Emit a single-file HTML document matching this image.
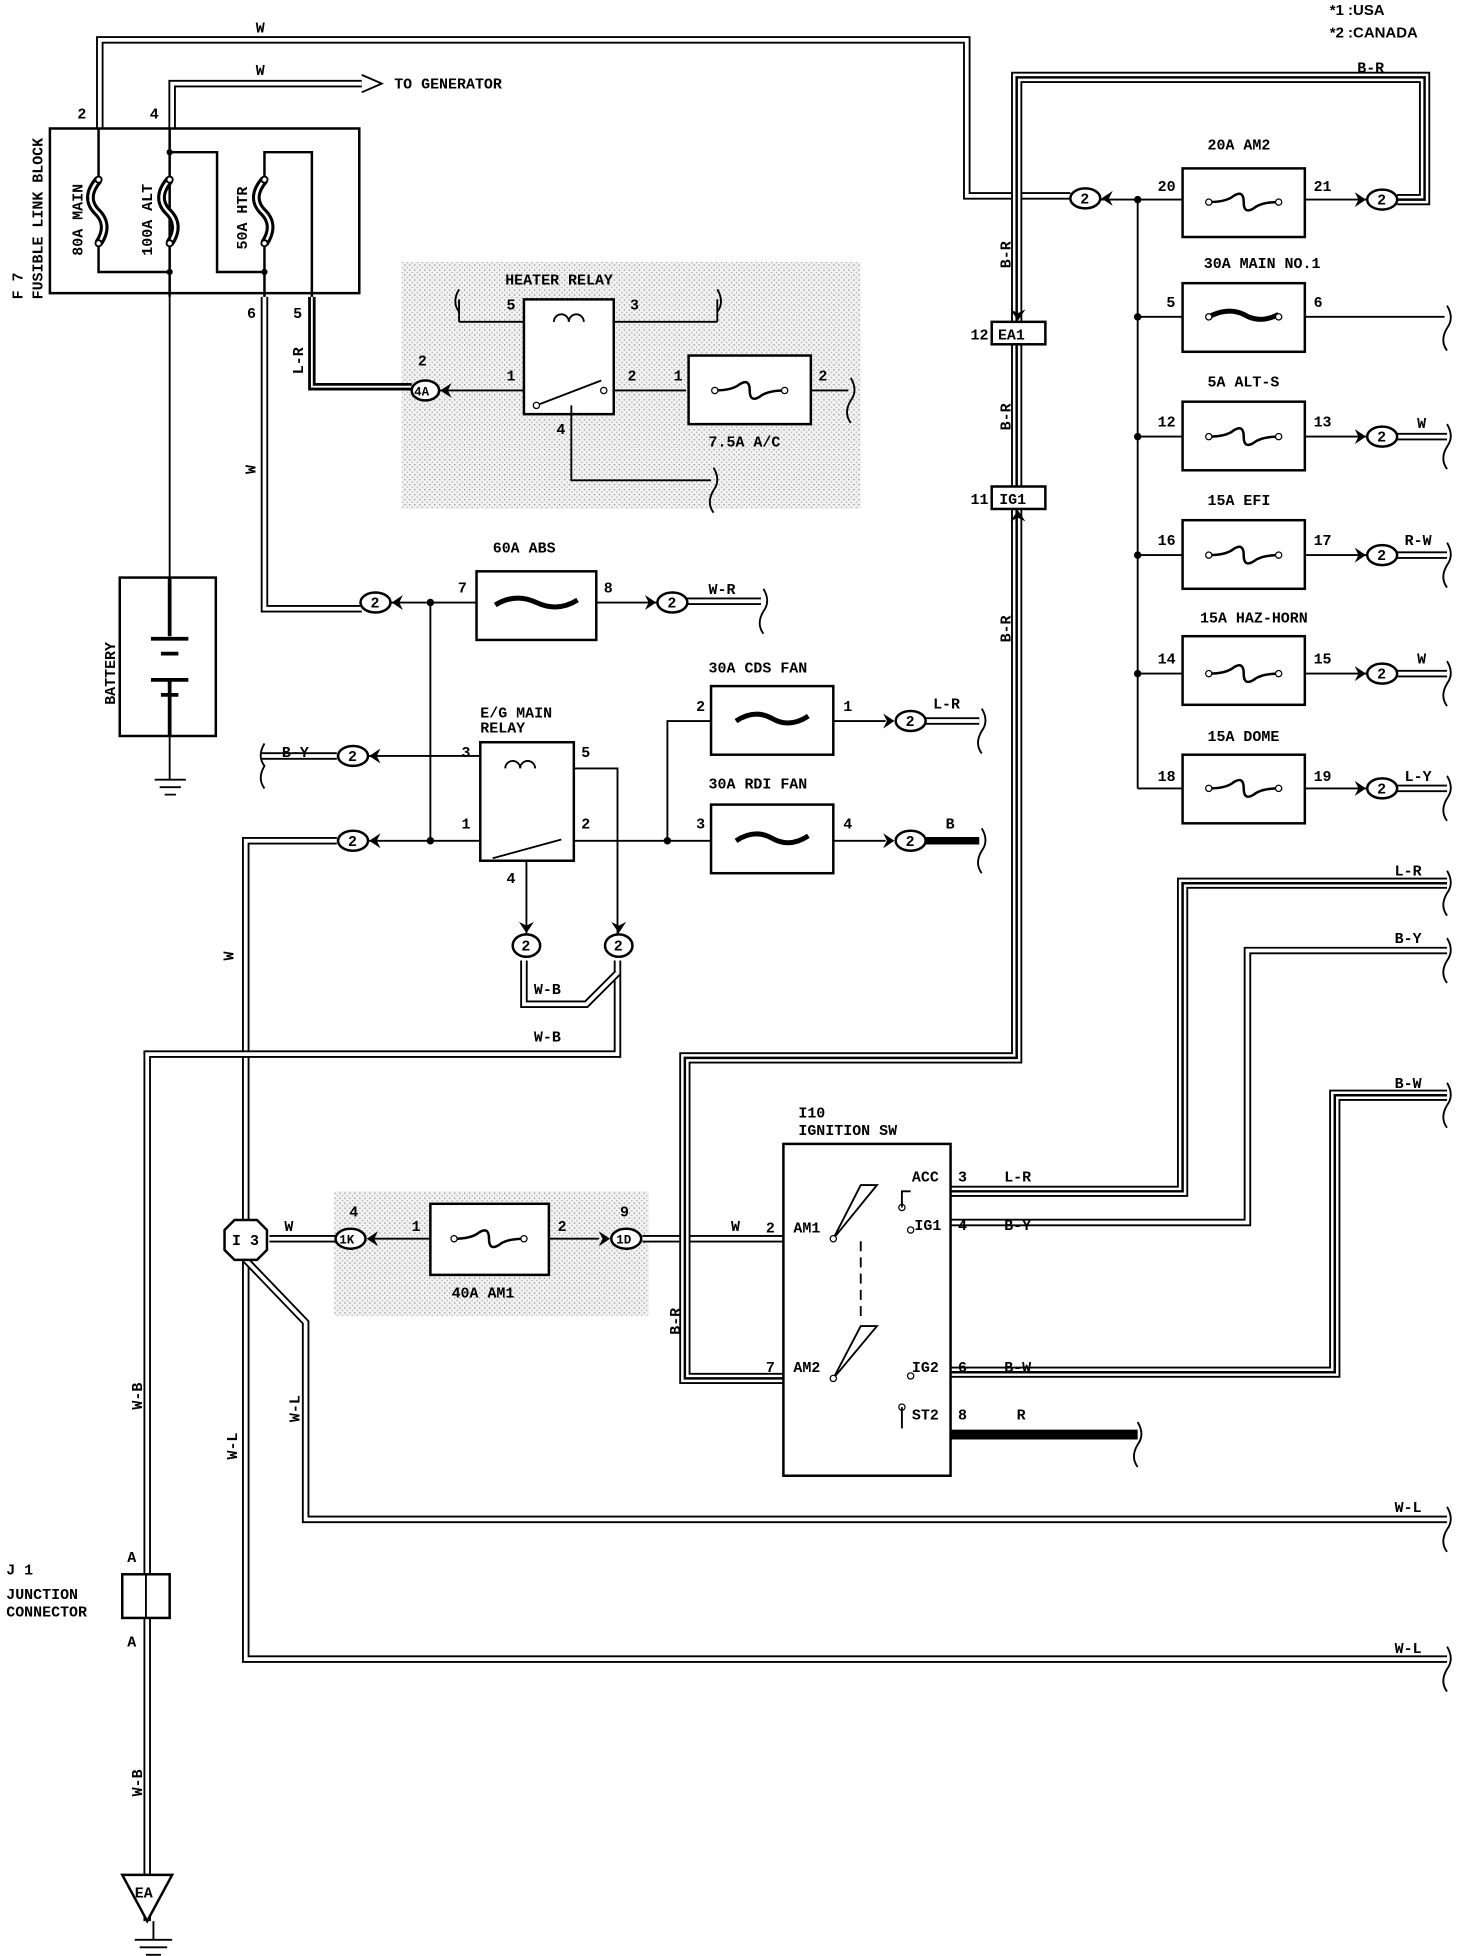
<!DOCTYPE html>
<html><head><meta charset="utf-8"><style>
html,body{margin:0;padding:0;background:#fff}
svg{display:block}
text{font-family:"Liberation Mono",monospace;font-size:12px;font-weight:bold;fill:#000}
</style></head><body>
<svg width="1472" height="1956" viewBox="0 0 1180 1568" xmlns="http://www.w3.org/2000/svg">
<defs>
<pattern id="dots" width="4" height="4" patternUnits="userSpaceOnUse"><rect width="4" height="4" fill="#f2f2f2"/><rect width="1" height="1" fill="#888"/><rect x="2" y="2" width="1" height="1" fill="#aaa"/></pattern>
<g id="fuse"><path d="M-28 0 Q-14 0 -8 -5 Q0 -10 0 0 Q0 10 8 5 Q14 0 28 0" fill="none" stroke="#000" stroke-width="2"/><circle cx="-28" cy="0" r="2.5" fill="#fff" stroke="#000"/><circle cx="28" cy="0" r="2.5" fill="#fff" stroke="#000"/></g>
<g id="vf"><path d="M0 0Q-12 14 -2 25Q10 36 0 51" fill="none" stroke="#000" stroke-width="7"/><path d="M0 0Q-12 14 -2 25Q10 36 0 51" fill="none" stroke="#fff" stroke-width="2"/><circle cx="0" cy="0" r="2.5" fill="#fff" stroke="#000" stroke-width="1.5"/><circle cx="0" cy="51" r="2.5" fill="#fff" stroke="#000" stroke-width="1.5"/></g>
<polygon id="ar" points="0,0 9,-6 6,0 9,6" fill="#000"/>
</defs>
<style>
.w{fill:none;stroke:#000;stroke-width:1.5}
.dA{fill:none;stroke:#000;stroke-width:6}
.dB{fill:none;stroke:#fff;stroke-width:3}
.tA{fill:none;stroke:#000;stroke-width:9}
.tB{fill:none;stroke:#fff;stroke-width:6}
.tC{fill:none;stroke:#000;stroke-width:2}
.bx{fill:#fff;stroke:#000;stroke-width:2}
</style>
<text x="1066" y="12" style="font-family:'Liberation Sans',sans-serif;font-size:12px">*1 :USA</text>
<text x="1066" y="30" style="font-family:'Liberation Sans',sans-serif;font-size:12px">*2 :CANADA</text>

<rect x="322" y="210" width="368" height="198" fill="url(#dots)"/>
<rect x="268" y="955" width="252" height="100" fill="url(#dots)"/>

<g>
<path class="dA" d="M80 103V32H775V157H858"/><path class="dB" d="M80 103V32H775V157H858"/>
<path class="dA" d="M138 103V67H290"/><path class="dB" d="M138 103V67H290"/>
<path class="dA" d="M212 238V488H290"/><path class="dB" d="M212 238V488H290"/>
<path class="dA" d="M270 674H197V1330H1160"/><path class="dB" d="M270 674H197V1330H1160"/>
<path class="dA" d="M197 1010L245 1060V1218H1160"/><path class="dB" d="M197 1010L245 1060V1218H1160"/>
<path class="dA" d="M495 770V845H118V1540"/><path class="dB" d="M495 770V845H118V1540"/>
<path class="dA" d="M420 770V805H470L495 780"/><path class="dB" d="M420 770V805H470L495 780"/>
<path class="dA" d="M216 993H270M515 993H628"/><path class="dB" d="M216 993H270M515 993H628"/>
<path class="dA" d="M545 482H610M740 578H785M1120 350H1160M1120 445H1160M1120 540H1160M1120 632H1160"/><path class="dB" d="M545 482H610M740 578H785M1120 350H1160M1120 445H1160M1120 540H1160M1120 632H1160"/>
<path class="dA" d="M210 606H270"/><path class="dB" d="M210 606H270"/>
<path class="dA" d="M762 980H1000V762H1160"/><path class="dB" d="M762 980H1000V762H1160"/>
</g>
<g>
<path class="tA" d="M1120 160H1142V62H815V848H549V1105H628"/><path class="tB" d="M1120 160H1142V62H815V848H549V1105H628"/><path class="tC" d="M1120 160H1142V62H815V848H549V1105H628"/>
<path class="tA" d="M762 955H948V708H1160"/><path class="tB" d="M762 955H948V708H1160"/><path class="tC" d="M762 955H948V708H1160"/>
<path class="tA" d="M762 1100H1070V878H1160"/><path class="tB" d="M762 1100H1070V878H1160"/><path class="tC" d="M762 1100H1070V878H1160"/>
<path d="M250 238V310H330" fill="none" stroke="#000" stroke-width="6"/><path d="M250 238V310H330" fill="none" stroke="#fff" stroke-width="1.5"/>
<path d="M740 674H785" stroke="#000" stroke-width="6"/>
<path d="M762 1150H912" stroke="#000" stroke-width="8"/>
</g>
<g class="w">
<path d="M136 238V463M136 590V625"/><path d="M124 625H149M128 631H145M132 637H141"/>
<path d="M300 483H382M478 483H540"/>
<path d="M345 483V674"/>
<path d="M290 674H385M290 606H385"/>
<path d="M460 674H570M535 674V578H570M668 578H710M668 674H710"/>
<path d="M460 616H495V750M422 686V750"/>
<path d="M368 258H575M368 258V240M575 258V240M352 313H420M490 313H550M650 313H680M458 340V385H570"/>
<path d="M912 160V632"/>
<path d="M880 160H948M1046 160H1098"/>
<path d="M912 254H948M1046 254H1158M912 350H948M1046 350H1098M912 445H948M1046 445H1098M912 540H948M1046 540H1098M912 632H948M1046 632H1098"/>
<path d="M300 993H345M440 993H480"/>
<path d="M123 1540V1555M108 1555H138M112 1561H134M117 1567H129"/>
</g>

<!-- Fusible link block -->
<rect class="bx" x="40" y="103" width="248" height="132"/>
<g class="w" style="stroke-width:2">
<path d="M79 103V144M79 195V218H136"/>
<path d="M136 103V238"/>
<path d="M136 122H174V218H212M212 195V238"/>
<path d="M212 144V122H250V238"/>
</g>
<circle cx="136" cy="122" r="2.5"/><circle cx="136" cy="218" r="2.5"/><circle cx="212" cy="218" r="2.5"/>
<use href="#vf" x="79" y="144"/><use href="#vf" x="136" y="144"/><use href="#vf" x="212" y="144"/>
<text transform="translate(66 205) rotate(-90)">80A MAIN</text>
<text transform="translate(122 205) rotate(-90)">100A ALT</text>
<text transform="translate(198 200) rotate(-90)">50A HTR</text>
<text transform="translate(18 240) rotate(-90)">F 7</text>
<text transform="translate(34 240) rotate(-90)">FUSIBLE LINK BLOCK</text>
<text x="62" y="95">2</text><text x="120" y="95">4</text><text x="198" y="255">6</text><text x="235" y="255">5</text>
<text x="205" y="26">W</text><text x="205" y="60">W</text>
<path d="M290 60L306 67L290 74" fill="none" stroke="#000" stroke-width="1.5"/>
<text x="316" y="71">TO GENERATOR</text>
<text transform="translate(243 300) rotate(-90)">L-R</text>
<text transform="translate(205 380) rotate(-90)">W</text>

<rect class="bx" x="96" y="463" width="77" height="127"/>
<path d="M136 463V510M136 545V590M121 512H151M129 524H143M121 545H151M129 557H143" stroke="#000" stroke-width="3"/>
<text transform="translate(92 565) rotate(-90)">BATTERY</text>

<text x="405" y="228">HEATER RELAY</text>
<rect class="bx" x="420" y="240" width="72" height="92"/>
<path d="M444 258a6 6 0 0 1 12 0a6 6 0 0 1 12 0" fill="none" stroke="#000" stroke-width="1.5"/>
<path class="w" d="M430 325L482 305M458 325V340"/><circle cx="430" cy="325" r="2.5" fill="#fff" stroke="#000"/><circle cx="484" cy="313" r="2.5" fill="#fff" stroke="#000"/>
<text x="406" y="248">5</text><text x="505" y="248">3</text><text x="406" y="305">1</text><text x="503" y="305">2</text><text x="446" y="348">4</text>
<rect class="bx" x="552" y="285" width="98" height="55"/><use href="#fuse" x="601" y="313"/>
<text x="540" y="305">1</text><text x="656" y="305">2</text><text x="568" y="358">7.5A A/C</text>
<text x="335" y="293">2</text>
<ellipse cx="341" cy="313" rx="11" ry="8" fill="#fff" stroke="#000" stroke-width="2"/><text x="332" y="317" style="font-size:10px">4A</text>

<text x="395" y="443">60A ABS</text>
<rect class="bx" x="382" y="458" width="96" height="55"/>
<path d="M397 485Q413 475 430 483Q447 491 463 481" fill="none" stroke="#000" stroke-width="4"/>
<text x="367" y="475">7</text><text x="484" y="475">8</text>
<text x="568" y="476">W-R</text>
<circle cx="345" cy="483" r="3"/><circle cx="345" cy="674" r="3"/><circle cx="535" cy="674" r="3"/>

<text x="385" y="575">E/G MAIN</text><text x="385" y="587">RELAY</text>
<rect class="bx" x="385" y="595" width="75" height="95"/>
<path d="M405 616a6 6 0 0 1 12 0a6 6 0 0 1 12 0" fill="none" stroke="#000" stroke-width="1.5"/>
<path class="w" d="M395 688L450 673"/>
<text x="370" y="607">3</text><text x="466" y="607">5</text><text x="370" y="664">1</text><text x="466" y="664">2</text><text x="406" y="708">4</text>

<text x="568" y="539">30A CDS FAN</text>
<rect class="bx" x="570" y="550" width="98" height="55"/>
<path d="M590 578Q605 568 619 576Q633 584 648 574" fill="none" stroke="#000" stroke-width="4"/>
<text x="558" y="570">2</text><text x="676" y="570">1</text><text x="748" y="568">L-R</text>
<text x="568" y="632">30A RDI FAN</text>
<rect class="bx" x="570" y="645" width="98" height="55"/>
<path d="M590 674Q605 664 619 672Q633 680 648 670" fill="none" stroke="#000" stroke-width="4"/>
<text x="558" y="664">3</text><text x="676" y="664">4</text><text x="758" y="664">B</text>
<text x="226" y="607">B-Y</text>

<text x="428" y="797">W-B</text><text x="428" y="835">W-B</text>
<text transform="translate(187 770) rotate(-90)">W</text>

<g>
<text x="968" y="120">20A AM2</text><rect class="bx" x="948" y="135" width="98" height="55"/><use href="#fuse" x="997" y="162"/>
<text x="928" y="153">20</text><text x="1053" y="153">21</text>
<text x="965" y="215">30A MAIN NO.1</text><rect class="bx" x="948" y="227" width="98" height="55"/>
<path d="M969 254Q984 246 997 252Q1010 260 1025 252" fill="none" stroke="#000" stroke-width="4"/><circle cx="969" cy="254" r="2.5" fill="#fff" stroke="#000"/><circle cx="1025" cy="254" r="2.5" fill="#fff" stroke="#000"/>
<text x="935" y="246">5</text><text x="1053" y="246">6</text>
<text x="968" y="310">5A ALT-S</text><rect class="bx" x="948" y="322" width="98" height="55"/><use href="#fuse" x="997" y="350"/>
<text x="928" y="342">12</text><text x="1053" y="342">13</text><text x="1136" y="343">W</text>
<text x="968" y="405">15A EFI</text><rect class="bx" x="948" y="417" width="98" height="55"/><use href="#fuse" x="997" y="445"/>
<text x="928" y="437">16</text><text x="1053" y="437">17</text><text x="1126" y="437">R-W</text>
<text x="962" y="499">15A HAZ-HORN</text><rect class="bx" x="948" y="510" width="98" height="55"/><use href="#fuse" x="997" y="540"/>
<text x="928" y="532">14</text><text x="1053" y="532">15</text><text x="1136" y="532">W</text>
<text x="968" y="594">15A DOME</text><rect class="bx" x="948" y="605" width="98" height="55"/><use href="#fuse" x="997" y="632"/>
<text x="928" y="626">18</text><text x="1053" y="626">19</text><text x="1126" y="626">L-Y</text>
<text x="1088" y="58">B-R</text>
<circle cx="912" cy="160" r="3"/><circle cx="912" cy="254" r="3"/><circle cx="912" cy="350" r="3"/><circle cx="912" cy="445" r="3"/><circle cx="912" cy="540" r="3"/>
</g>

<rect class="bx" x="795" y="258" width="43" height="18"/><text x="800" y="272">EA1</text><text x="778" y="272">12</text>
<rect class="bx" x="795" y="390" width="43" height="18"/><text x="801" y="404">IG1</text><text x="778" y="404">11</text>
<text transform="translate(810 215) rotate(-90)">B-R</text>
<text transform="translate(810 345) rotate(-90)">B-R</text>
<text transform="translate(810 515) rotate(-90)">B-R</text>
<text transform="translate(545 1070) rotate(-90)">B-R</text>

<text x="640" y="896">I10</text><text x="640" y="910">IGNITION SW</text>
<rect class="bx" x="628" y="917" width="134" height="266"/>
<path class="w" d="M668 993L690 950L703 950ZM668 1105L690 1063L703 1063Z"/>
<path d="M690 995V1060" stroke="#000" stroke-dasharray="8 5" stroke-width="1.5"/>
<g fill="#fff" stroke="#000"><circle cx="668" cy="993" r="2.5"/><circle cx="668" cy="1105" r="2.5"/><circle cx="723" cy="968" r="2.5"/><circle cx="730" cy="986" r="2.5"/><circle cx="730" cy="1103" r="2.5"/><circle cx="723" cy="1128" r="2.5"/></g>
<path class="w" d="M723 968V955H730M723 1128V1145"/>
<text x="636" y="988">AM1</text><text x="636" y="1100">AM2</text>
<text x="731" y="947">ACC</text><text x="733" y="986">IG1</text><text x="731" y="1100">IG2</text><text x="731" y="1138">ST2</text>
<text x="614" y="988">2</text><text x="614" y="1100">7</text>
<text x="768" y="947">3</text><text x="768" y="986">4</text><text x="768" y="1100">6</text><text x="768" y="1138">8</text>
<text x="805" y="947">L-R</text><text x="805" y="986">B-Y</text><text x="805" y="1100">B-W</text><text x="815" y="1138">R</text>
<text x="1118" y="702">L-R</text><text x="1118" y="756">B-Y</text><text x="1118" y="872">B-W</text>
<text x="1118" y="1212">W-L</text><text x="1118" y="1325">W-L</text>

<text x="362" y="1040">40A AM1</text>
<rect class="bx" x="345" y="965" width="95" height="57"/><use href="#fuse" x="392" y="993"/>
<text x="330" y="987">1</text><text x="447" y="987">2</text><text x="280" y="975">4</text><text x="497" y="975">9</text>
<ellipse cx="281" cy="993" rx="12" ry="8" fill="#fff" stroke="#000" stroke-width="2"/><text x="272" y="997" style="font-size:10px">1K</text>
<ellipse cx="502" cy="993" rx="12" ry="8" fill="#fff" stroke="#000" stroke-width="2"/><text x="494" y="997" style="font-size:10px">1D</text>
<text x="228" y="987">W</text><text x="586" y="987">W</text>

<polygon points="188,978 206,978 214,986 214,1002 206,1010 188,1010 180,1002 180,986" fill="#fff" stroke="#000" stroke-width="2"/>
<text x="186" y="998">I 3</text>
<text transform="translate(190 1170) rotate(-90)">W-L</text>
<text transform="translate(240 1140) rotate(-90)">W-L</text>
<text transform="translate(114 1130) rotate(-90)">W-B</text>
<text transform="translate(114 1440) rotate(-90)">W-B</text>

<rect class="bx" x="98" y="1262" width="38" height="35"/><path class="w" d="M117 1262V1297"/>
<text x="102" y="1252">A</text><text x="102" y="1320">A</text>
<text x="5" y="1262">J 1</text><text x="5" y="1282">JUNCTION</text><text x="5" y="1296">CONNECTOR</text>
<polygon points="98,1503 138,1503 118,1540" fill="#fff" stroke="#000" stroke-width="2"/><text x="108" y="1521">EA</text>

<g fill="#fff" stroke="#000" stroke-width="2">
<ellipse cx="870" cy="159" rx="12" ry="8"/><ellipse cx="1108" cy="160" rx="12" ry="8"/>
<ellipse cx="1108" cy="350" rx="12" ry="8"/><ellipse cx="1108" cy="445" rx="12" ry="8"/><ellipse cx="1108" cy="540" rx="12" ry="8"/><ellipse cx="1108" cy="632" rx="12" ry="8"/>
<ellipse cx="301" cy="483" rx="12" ry="8"/><ellipse cx="539" cy="483" rx="12" ry="8"/>
<ellipse cx="283" cy="606" rx="12" ry="8"/><ellipse cx="283" cy="674" rx="12" ry="8"/>
<ellipse cx="730" cy="578" rx="12" ry="8"/><ellipse cx="730" cy="674" rx="12" ry="8"/>
<ellipse cx="422" cy="758" rx="11" ry="9"/><ellipse cx="496" cy="758" rx="11" ry="9"/>
</g>
<g style="font-size:11px">
<text x="866" y="163">2</text><text x="1104" y="164">2</text><text x="1104" y="354">2</text><text x="1104" y="449">2</text><text x="1104" y="544">2</text><text x="1104" y="636">2</text>
<text x="297" y="487">2</text><text x="535" y="487">2</text><text x="279" y="610">2</text><text x="279" y="678">2</text>
<text x="726" y="582">2</text><text x="726" y="678">2</text><text x="418" y="762">2</text><text x="492" y="762">2</text>
</g>
<!-- arrowheads -->
<use href="#ar" x="883" y="159"/>
<use href="#ar" transform="translate(1095 160) rotate(180)"/>
<use href="#ar" transform="translate(1095 350) rotate(180)"/>
<use href="#ar" transform="translate(1095 445) rotate(180)"/>
<use href="#ar" transform="translate(1095 540) rotate(180)"/>
<use href="#ar" transform="translate(1095 632) rotate(180)"/>
<use href="#ar" x="314" y="483"/>
<use href="#ar" transform="translate(526 483) rotate(180)"/>
<use href="#ar" x="296" y="606"/>
<use href="#ar" x="296" y="674"/>
<use href="#ar" transform="translate(717 578) rotate(180)"/>
<use href="#ar" transform="translate(717 674) rotate(180)"/>
<use href="#ar" transform="translate(422 748) rotate(-90)"/>
<use href="#ar" transform="translate(496 748) rotate(-90)"/>
<use href="#ar" x="353" y="313"/>
<use href="#ar" x="294" y="993"/>
<use href="#ar" transform="translate(489 993) rotate(180)"/>
<use href="#ar" transform="translate(816 257) rotate(-90)"/>
<use href="#ar" transform="translate(816 409) rotate(90)"/>

<g class="w">
<path d="M1160 245q6 10 0 18q-6 10 0 18M1160 340q6 10 0 18q-6 10 0 18M1160 435q6 10 0 18q-6 10 0 18M1160 530q6 10 0 18q-6 10 0 18M1160 622q6 10 0 18q-6 10 0 18"/>
<path d="M1160 698q6 10 0 18q-6 10 0 18M1160 752q6 10 0 18q-6 10 0 18M1160 868q6 10 0 18q-6 10 0 18M1160 1208q6 10 0 18q-6 10 0 18M1160 1320q6 10 0 18q-6 10 0 18"/>
<path d="M612 472q6 10 0 18q-6 10 0 18M787 568q6 10 0 18q-6 10 0 18M787 664q6 10 0 18q-6 10 0 18M912 1140q6 10 0 18q-6 10 0 18"/>
<path d="M212 596q-6 10 0 18q-6 10 0 18M368 232q-6 10 0 18M575 232q6 10 0 18M682 303q6 10 0 18q-6 10 0 18M572 375q6 10 0 18q-6 10 0 18"/>
</g>
</svg>
</body></html>
